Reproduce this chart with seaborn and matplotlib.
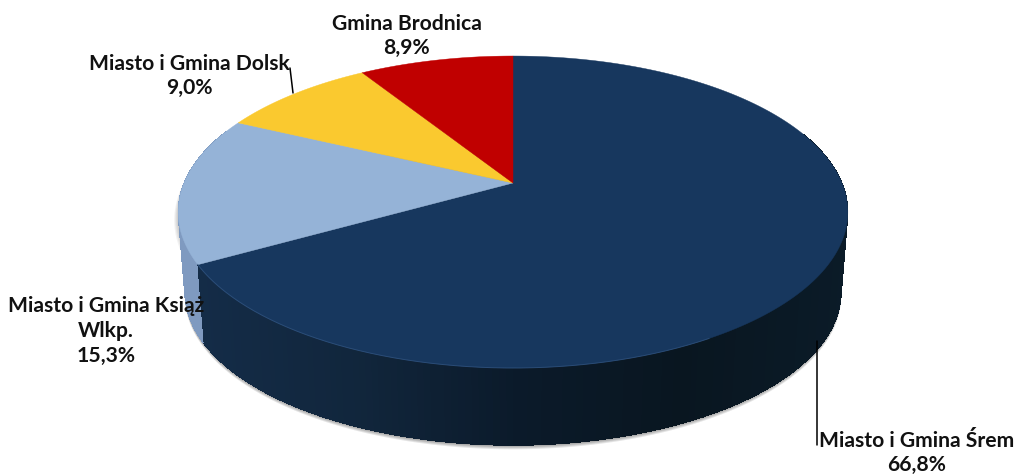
import numpy as np
import matplotlib
matplotlib.use('Agg')
import matplotlib.pyplot as plt
import seaborn as sns

# ── Data ───────────────────────────────────────────────────────────────────────
gminy = ['Miasto i Gmina Śrem', 'Miasto i Gmina Książ\nWlkp.', 'Miasto i Gmina Dolsk', 'Gmina Brodnica']
udzial = [66.8, 15.3, 9.0, 8.9]
etykiety = ['66,8%', '15,3%', '9,0%', '8,9%']

# ── Style ──────────────────────────────────────────────────────────────────────
sns.set_theme(style='white')
plt.rcParams['font.family'] = ['Lato', 'DejaVu Sans']
KOLORY = ['#17375e', '#95b3d7', '#fac92f', '#c00000']
BOK_NAVY = sns.blend_palette(['#142c48', '#11263c', '#0b1a2a', '#091620', '#0b1b28'], 160)
BOK_BLUE = '#7f9ac0'

# pie geometry, in pixels of the picture
CX, CY = 513, 183
A, B, K = 329, 150.6, 0.186
GLEBOKOSC = 81
SKALA = 0.98


def rzut(kat, dy=0.0, skala=1.0):
    # kat = degrees clockwise from the top, perspective projection of the disc
    t = np.radians(kat)
    u, v = np.sin(t), np.cos(t)
    w = 1 + K * v
    return CX + skala * A * u / w, CY + dy - skala * B * v / w


fig, ax = plt.subplots(figsize=(10.16, 4.74), dpi=100)
fig.subplots_adjust(0, 0, 1, 1)
ax.set_xlim(0, 1016)
ax.set_ylim(474, 0)
ax.set_axis_off()

granice = np.concatenate([[0], np.cumsum(udzial) / sum(udzial) * 360])

# ── Shadow ─────────────────────────────────────────────────────────────────────
kolo = np.linspace(0, 360, 361)
for off in [4, 3, 2, 1]:
    xs, ys = rzut(kolo, GLEBOKOSC + off, SKALA)
    ax.fill(xs, ys, color='black', alpha=0.10, lw=0, zorder=1)
    xs, ys = rzut(kolo, off * 0.8, 1.0)
    ax.fill(xs - off, ys + 5, color='black', alpha=0.05, lw=0, zorder=1)

# ── Side of the pie ────────────────────────────────────────────────────────────
katy = np.arange(70, 292, 1.0)
for a0, a1 in zip(katy[:-1], katy[1:]):
    x0, y0 = rzut(a0)
    x1, y1 = rzut(a1 + 0.6)
    x2, y2 = rzut(a1 + 0.6, GLEBOKOSC, SKALA)
    x3, y3 = rzut(a0, GLEBOKOSC, SKALA)
    if a0 >= granice[1]:
        kolor = BOK_BLUE
    else:
        idx = int(np.clip((x0 - 190) / 660 * 159, 0, 159))
        kolor = BOK_NAVY[idx]
    ax.fill([x0, x1, x2, x3], [y0, y1, y2, y3], color=kolor, lw=0, zorder=2, antialiased=False)

# ── Top of the pie ─────────────────────────────────────────────────────────────
for i, kolor in enumerate(KOLORY):
    th = np.linspace(granice[i], granice[i + 1], 200)
    xs, ys = rzut(th)
    ax.fill(np.r_[CX, xs], np.r_[CY, ys], color=kolor, lw=0.3, ec=kolor, zorder=3)

# light rim on the front edge
th = np.linspace(150, granice[1], 200)
xs, ys = rzut(th)
ax.plot(xs, ys, color='#3a5f8f', lw=0.7, alpha=0.6, zorder=4)

# ── Leader lines ───────────────────────────────────────────────────────────────
ax.plot([817, 817], [341, 445], color='black', lw=1.1, zorder=5)
ax.plot([290, 293], [68, 93], color='black', lw=1.1, zorder=5)

# ── Labels ─────────────────────────────────────────────────────────────────────
pozycje = [(917, 453), (106, 331), (189, 76), (407, 36)]
for nazwa, proc, (px, py) in zip(gminy, etykiety, pozycje):
    ax.text(px, py, f'{nazwa}\n{proc}', ha='center', va='center', fontsize=15.2,
            fontweight='bold', color='#111111', linespacing=1.3, zorder=6)

fig.savefig('out.png', dpi=100)
